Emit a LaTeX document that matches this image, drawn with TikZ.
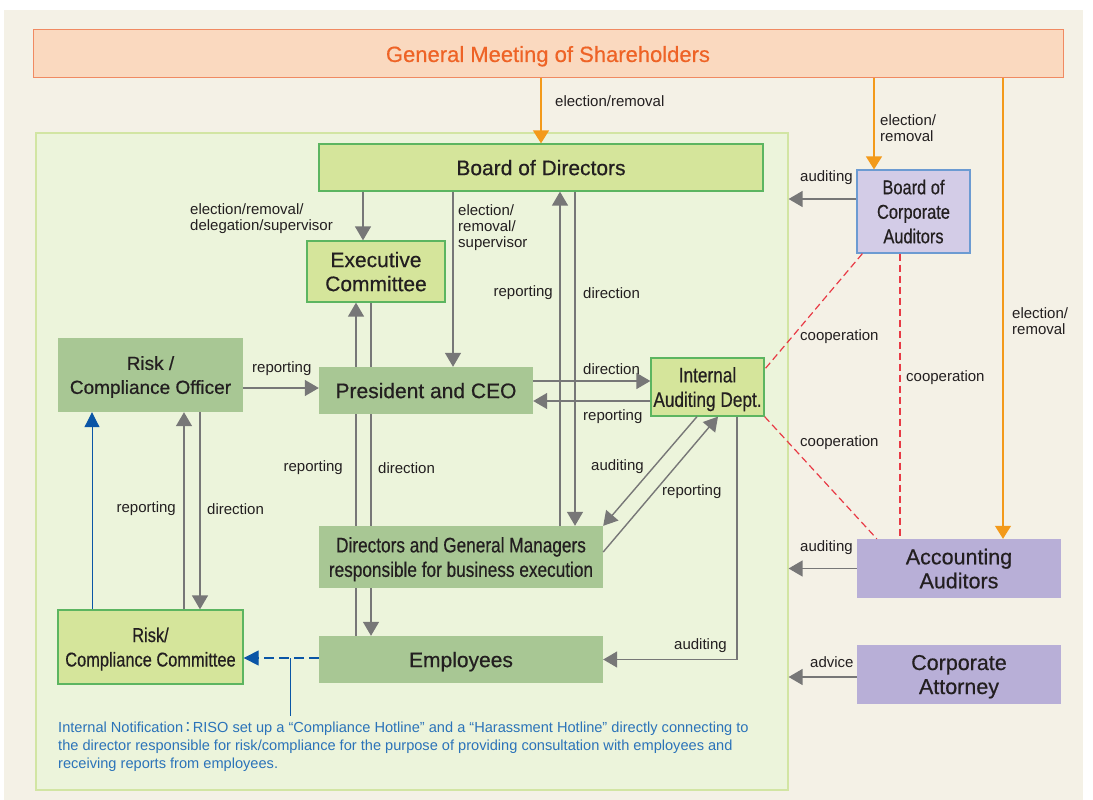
\documentclass[tikz,border=0pt]{standalone}
\usepackage{fontspec}
\setmainfont{Liberation Sans}
\newfontfamily\heavyfamily[FakeBold=0.5]{Liberation Sans}
\newfontfamily\narrowfamily[FakeStretch=0.82,FakeBold=0.5]{Liberation Sans}
\newfontfamily\cjkfont{Noto Sans CJK JP}
\usetikzlibrary{arrows.meta,calc}

\definecolor{paper}{HTML}{F4F1E6}
\definecolor{gmfill}{HTML}{FAD9BF}
\definecolor{gmline}{HTML}{F08A62}
\definecolor{gmtext}{HTML}{EE6326}
\definecolor{regionfill}{HTML}{ECF4DB}
\definecolor{regionline}{HTML}{D2E5A3}
\definecolor{lightgreen}{HTML}{D5E59B}
\definecolor{boxline}{HTML}{5CB560}
\definecolor{darkgreen}{HTML}{A8C794}
\definecolor{lavender}{HTML}{D3CCE7}
\definecolor{lavline}{HTML}{6C9BD2}
\definecolor{purplefill}{HTML}{B8AFD7}
\definecolor{arrowgray}{HTML}{777777}
\definecolor{orangeline}{HTML}{F39A1B}
\definecolor{redline}{HTML}{E83A45}
\definecolor{bluenote}{HTML}{2B73B9}
\definecolor{bluearrow}{HTML}{0A55A6}
\definecolor{ink}{HTML}{231F20}

\newcommand\boxfont[1]{\heavyfamily\fontsize{#1}{24}\selectfont}
\newcommand\narrowfont[1]{\narrowfamily\fontsize{#1}{24.5}\selectfont}
\newcommand\labelfont{\fontsize{15}{16}\selectfont}

\begin{document}
\begin{tikzpicture}[x=1pt, y=-1pt,
    box/.style={align=center, inner sep=0pt, text=ink, text depth=0pt},
    lightbox/.style={box, draw=boxline, line width=1.3pt, fill=lightgreen},
    darkbox/.style={box, fill=darkgreen},
    auditbox/.style={box, fill=purplefill, font=\boxfont{21.5}},
    lbl/.style={font=\labelfont, inner sep=0pt, align=left, text=ink},
    garrow/.style={draw=arrowgray, line width=1.4pt, -{Triangle[width=16pt,length=14pt]}},
    gline/.style={draw=arrowgray, line width=1.4pt},
    oarrow/.style={draw=orangeline, line width=1.3pt, -{Triangle[width=16pt,length=13pt]}},
    coop/.style={draw=redline, line width=1.2pt, dash pattern=on 7pt off 4pt},
    barrow/.style={draw=bluearrow, line width=1pt, -{Triangle[width=15pt,length=15pt]}},
    bdash/.style={barrow, line width=1.1pt, dash pattern=on 10pt off 5pt}]

    % Page and background
    \fill[white] (0,0) rectangle (1093,800);
    \useasboundingbox (0,0) rectangle (1093,800);
    \fill[paper] (4,10) rectangle (1083,800);

    % General meeting on top
    \node[box, draw=gmline, line width=1pt, fill=gmfill, minimum width=1030pt, minimum height=48pt,
          font=\boxfont{22}, text=gmtext] (gm) at (548,54)
          {General Meeting of Shareholders};

    % The company (green area)
    \node[draw=regionline, line width=1.2pt, fill=regionfill, minimum width=752pt,
          minimum height=657pt, inner sep=0pt] (company) at (412,461.5) {};

    % Boxes inside the company
    \node[lightbox, minimum width=444pt, minimum height=47pt, font=\boxfont{21}] (bod) at (541,167.5) {Board of Directors};
    \node[lightbox, minimum width=138pt, minimum height=61pt, font=\boxfont{21}] (ec) at (376,271.5) {Executive\\Committee};
    \node[darkbox, minimum width=185pt, minimum height=74pt, font=\boxfont{19}] (rco) at (150.5,375) {Risk /\\Compliance Officer};
    \node[darkbox, minimum width=214pt, minimum height=47pt, font=\boxfont{21}] (ceo) at (426,390.5) {President and CEO};
    \node[lightbox, minimum width=113pt, minimum height=58pt, font=\narrowfont{21}] (iad) at (707.5,387) {Internal\\Auditing Dept.};
    \node[darkbox, minimum width=284pt, minimum height=62pt, font=\narrowfont{21}] (dgm) at (461,557) {Directors and General Managers\\responsible for business execution};
    \node[darkbox, minimum width=284pt, minimum height=47pt, font=\boxfont{21}] (emp) at (461,659.5) {Employees};
    \node[lightbox, minimum width=185pt, minimum height=74pt, font=\narrowfont{20}] (rcc) at (150.5,647) {Risk/\\Compliance Committee};

    % Boxes outside
    \node[box, draw=lavline, line width=1.2pt, fill=lavender, minimum width=113pt, minimum height=83pt, font=\narrowfont{20}] (bca) at (913.5,211.5) {Board of\\Corporate\\Auditors};
    \node[auditbox, minimum width=204pt, minimum height=59pt] (aa) at (959,568.5) {Accounting\\Auditors};
    \node[auditbox, minimum width=204pt, minimum height=59pt] (ca) at (959,674.5) {Corporate\\Attorney};

    % Note about the hotlines
    \node[anchor=north west, inner sep=0pt, align=left, text=bluenote, font=\fontsize{14.6}{18}\selectfont] (note) at (58,722)
        {Internal Notification\hspace{-2.5pt}{\cjkfont ：}\hspace{-2.5pt}RISO set up a “Compliance Hotline” and a “Harassment Hotline” directly connecting to\\
         the director responsible for risk/compliance for the purpose of providing consultation with employees and\\
         receiving reports from employees.};

    % Election by the shareholders
    \draw[oarrow] (gm.south -| bod.north) -- (bod.north);
    \coordinate (bcaTop) at ([xshift=-39.5pt]bca.north);
    \draw[oarrow] (gm.south -| bcaTop) -- (bcaTop);
    \coordinate (aaTop) at ([xshift=44pt]aa.north);
    \draw[oarrow] (gm.south -| aaTop) -- (aaTop);

    % Board of directors down
    \coordinate (ecIn) at ([xshift=-13pt]ec.north);
    \draw[garrow] (ecIn |- bod.south) -- (ecIn);
    \coordinate (ceoIn) at ([xshift=27pt]ceo.north);
    \draw[garrow] (ceoIn |- bod.south) -- (ceoIn);

    % Reporting / direction through the middle
    \coordinate (upL) at ([xshift=-20pt]ec.south);
    \coordinate (dnR) at ([xshift=-5pt]ec.south);
    \draw[garrow] (upL |- ceo.north) -- (upL);
    \draw[gline] (dnR) -- (dnR |- ceo.north);
    \draw[gline] (upL |- dgm.north) -- (upL |- ceo.south);
    \draw[gline] (dnR |- ceo.south) -- (dnR |- dgm.north);
    \draw[gline] (upL |- emp.north) -- (upL |- dgm.south);
    \draw[garrow] (dnR |- dgm.south) -- (dnR |- emp.north);

    % Board <-> directors and general managers
    \coordinate (bdUp) at ([xshift=19pt]bod.south);
    \coordinate (bdDn) at ([xshift=34pt]bod.south);
    \draw[garrow] (bdUp |- dgm.north) -- (bdUp);
    \draw[garrow] (bdDn) -- (bdDn |- dgm.north);

    % President <-> internal auditing
    \coordinate (ceoOut) at ([yshift=9.5pt]ceo.east);
    \draw[garrow] (ceoOut) -- (ceoOut -| iad.west);
    \coordinate (ceoBack) at ([yshift=-10.5pt]ceo.east);
    \draw[garrow] (ceoBack -| iad.west) -- (ceoBack);

    % Internal auditing
    \draw[garrow] ([xshift=-10.5pt]iad.south) -- (dgm.north east);
    \draw[garrow] ([yshift=5pt]dgm.east) -- ([xshift=10.5pt]iad.south);
    \coordinate (iadDn) at ([xshift=29.5pt]iad.south);
    \draw[garrow] (iadDn) |- (emp.east);

    % Risk / compliance
    \coordinate (rcoOut) at ([yshift=-13pt]rco.east);
    \draw[garrow] (rcoOut) -- (rcoOut -| ceo.west);
    \coordinate (rccUp) at ([xshift=33.5pt]rcc.north);
    \draw[garrow] (rccUp) -- (rccUp |- rco.south);
    \coordinate (rccDn) at ([xshift=49.5pt]rco.south);
    \draw[garrow] (rccDn) -- (rccDn |- rcc.north);
    \coordinate (hotUp) at ([xshift=-58.5pt]rcc.north);
    \draw[barrow] (hotUp) -- (hotUp |- rco.south);
    \coordinate (empOut) at ([yshift=1.5pt]emp.west);
    \draw[bdash] (empOut) -- (empOut -| rcc.east);
    \coordinate (hot) at ($(empOut)!0.38!(empOut -| rcc.east)$);
    \draw[bluearrow, line width=1pt] (hot) -- ($(hot |- note.north)+(0,-6)$);

    % Auditors from outside
    \coordinate (bcaOut) at ([yshift=12.5pt]bca.west);
    \draw[garrow] (bcaOut) -- (bcaOut -| company.east);
    \draw[garrow] (aa.west) -- (aa.west -| company.east);
    \coordinate (caOut) at ([yshift=-2.5pt]ca.west);
    \draw[garrow] (caOut) -- (caOut -| company.east);

    % Cooperation
    \draw[coop] ([xshift=6pt]bca.south west) -- ([yshift=-12pt]iad.north east);
    \coordinate (coopV) at ([xshift=-13.5pt]bca.south);
    \draw[coop] (coopV) -- (coopV |- aa.north);
    \draw[coop] (iad.south east) -- ([xshift=20pt]aa.north west);

    % Labels
    \node[lbl, anchor=west] (lElect) at (555,101) {election/removal};
    \node[lbl, anchor=west] (lElectB) at (880,128) {election/\\removal};
    \node[lbl, anchor=west] (lElectC) at (1012,321) {election/\\removal};
    \node[lbl, anchor=west] (lDeleg) at (190,219) {election/removal/\\delegation/supervisor};
    \node[lbl, anchor=west] (lSuper) at (458,228) {election/\\removal/\\supervisor};
    \node[lbl, anchor=east] (lRepBod) at (553,293) {reporting};
    \node[lbl, anchor=west] (lDirBod) at (583,293) {direction};
    \node[lbl, anchor=west] (lDirIad) at (583,369) {direction};
    \node[lbl, anchor=west] (lRepIad) at (583,417) {reporting};
    \node[lbl, anchor=west] (lRepRco) at (252,369) {reporting};
    \node[lbl, anchor=east] (lRepMid) at (343,468) {reporting};
    \node[lbl, anchor=west] (lDirMid) at (378,468) {direction};
    \node[lbl, anchor=east] (lRepRcc) at (176,509) {reporting};
    \node[lbl, anchor=west] (lDirRcc) at (207,509) {direction};
    \node[lbl, anchor=west] (lAudDgm) at (591,467) {auditing};
    \node[lbl, anchor=west] (lRepDgm) at (662,492) {reporting};
    \node[lbl, anchor=west] (lAudEmp) at (674,646) {auditing};
    \node[lbl, anchor=west] (lAudBca) at (800,178) {auditing};
    \node[lbl, anchor=west] (lCoopA) at (800,337) {cooperation};
    \node[lbl, anchor=west] (lCoopB) at (906,378) {cooperation};
    \node[lbl, anchor=west] (lCoopC) at (800,443) {cooperation};
    \node[lbl, anchor=west] (lAudAa) at (800,548) {auditing};
    \node[lbl, anchor=west] (lAdvice) at (810,662) {advice};
\end{tikzpicture}
\end{document}
